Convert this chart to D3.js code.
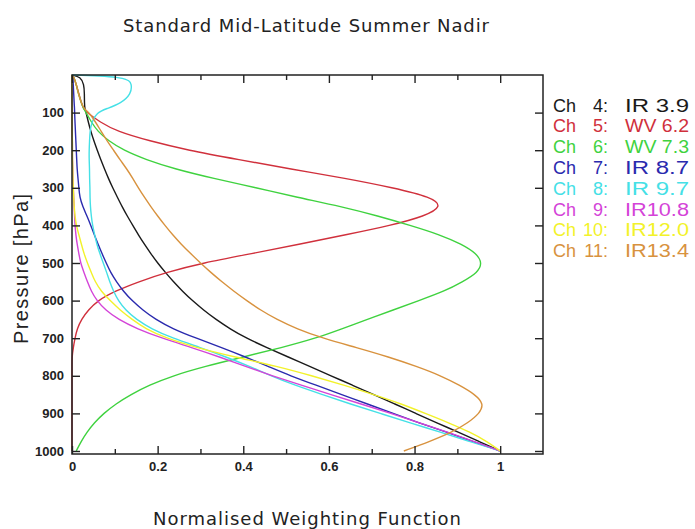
<!DOCTYPE html>
<html>
<head>
<meta charset="utf-8">
<script src="https://cdn.jsdelivr.net/npm/d3@7"></script>
<style>
body { margin: 0; background: #fff; }
text { fill: #222; }
</style>
</head>
<body>
<svg id="chart" width="695" height="529"></svg>
<script>
// pressure levels (hPa), shared by every channel
var pressure = [0, 5, 25, 50, 75, 90,
  100, 125, 150, 175, 200, 225, 250, 275, 300, 325, 350, 375, 400, 425, 450, 475,
  500, 525, 550, 575, 600, 625, 650, 675, 700, 725, 750, 775, 800, 825, 850, 875,
  900, 925, 950, 975, 1000];

// normalised weighting function per channel
var ch4 = [0, 0.02, 0.028, 0.029, 0.029, 0.03,
  0.033, 0.038, 0.044, 0.051, 0.059, 0.067, 0.076, 0.085, 0.095, 0.106, 0.117, 0.129, 0.142, 0.155, 0.169, 0.184,
  0.2, 0.218, 0.237, 0.258, 0.281, 0.307, 0.336, 0.369, 0.407, 0.455, 0.505, 0.555, 0.605, 0.655, 0.705, 0.754,
  0.803, 0.852, 0.902, 0.951, 1.0];
var ch5 = [0, 0.004, 0.01, 0.016, 0.022, 0.027,
  0.035, 0.065, 0.105, 0.18, 0.27, 0.39, 0.51, 0.64, 0.75, 0.84, 0.865, 0.825, 0.745, 0.64, 0.53, 0.42,
  0.305, 0.22, 0.155, 0.1, 0.06, 0.038, 0.022, 0.012, 0.007, 0.003, 0, 0, 0, 0, 0, 0,
  0, 0, 0, 0, 0];
var ch6 = [0, 0.004, 0.01, 0.015, 0.022, 0.027,
  0.033, 0.045, 0.06, 0.085, 0.12, 0.172, 0.24, 0.33, 0.43, 0.525, 0.63, 0.715, 0.79, 0.86, 0.91, 0.945,
  0.958, 0.948, 0.912, 0.87, 0.81, 0.75, 0.69, 0.63, 0.57, 0.49, 0.4, 0.31, 0.235, 0.18, 0.137, 0.102,
  0.074, 0.052, 0.035, 0.021, 0.01];
var ch7 = [0, 0.002, 0.003, 0.004, 0.005, 0.006,
  0.006, 0.007, 0.008, 0.009, 0.01, 0.011, 0.012, 0.014, 0.016, 0.018, 0.025, 0.035, 0.044, 0.052, 0.061, 0.07,
  0.08, 0.09, 0.104, 0.12, 0.14, 0.165, 0.195, 0.235, 0.29, 0.35, 0.405, 0.458, 0.51, 0.57, 0.63, 0.69,
  0.75, 0.81, 0.875, 0.937, 1.0];
var ch8 = [0, 0.13, 0.14, 0.138, 0.115, 0.08,
  0.058, 0.046, 0.042, 0.041, 0.04, 0.04, 0.041, 0.041, 0.042, 0.042, 0.043, 0.045, 0.048, 0.053, 0.058, 0.065,
  0.073, 0.081, 0.088, 0.097, 0.108, 0.125, 0.15, 0.185, 0.235, 0.3, 0.36, 0.415, 0.465, 0.52, 0.585, 0.65,
  0.72, 0.79, 0.86, 0.93, 1.0];
var ch9 = [0, 0, 0, 0, 0, 0,
  0, 0, 0, 0.001, 0.001, 0.001, 0.002, 0.002, 0.003, 0.004, 0.005, 0.006, 0.007, 0.009, 0.012, 0.016,
  0.02, 0.028, 0.036, 0.045, 0.058, 0.078, 0.108, 0.152, 0.21, 0.28, 0.345, 0.405, 0.468, 0.535, 0.605, 0.675,
  0.745, 0.812, 0.877, 0.94, 1.0];
var ch10 = [0, 0, 0, 0, 0, 0,
  0, 0, 0, 0.001, 0.001, 0.001, 0.002, 0.002, 0.003, 0.004, 0.005, 0.007, 0.01, 0.016, 0.022, 0.028,
  0.036, 0.045, 0.054, 0.068, 0.089, 0.112, 0.14, 0.172, 0.22, 0.29, 0.38, 0.48, 0.56, 0.635, 0.705, 0.77,
  0.825, 0.88, 0.93, 0.97, 1.0];
var ch11 = [0, 0.004, 0.01, 0.015, 0.022, 0.028,
  0.04, 0.055, 0.068, 0.082, 0.097, 0.112, 0.128, 0.142, 0.155, 0.169, 0.184, 0.2, 0.217, 0.235, 0.255, 0.277,
  0.3, 0.324, 0.35, 0.378, 0.408, 0.44, 0.478, 0.525, 0.585, 0.665, 0.74, 0.805, 0.862, 0.905, 0.942, 0.962,
  0.952, 0.925, 0.888, 0.835, 0.775];

// legend entries
var chanNums = ["4:", "5:", "6:", "7:", "8:", "9:", "10:", "11:"];
var bandLabels = ["IR 3.9", "WV 6.2", "WV 7.3", "IR 8.7", "IR 9.7", "IR10.8", "IR12.0", "IR13.4"];

// tick labels
var xTicks = [0, 0.2, 0.4, 0.6, 0.8, 1];
var xTickLabels = ["0", "0.2", "0.4", "0.6", "0.8", "1"];
var xMinor = [0.1, 0.3, 0.5, 0.7, 0.9];
var yTicks = [100, 200, 300, 400, 500, 600, 700, 800, 900, 1000];

var colors = ["#1a1a1a", "#d0303c", "#3fd23f", "#2a2aae", "#45e0e6", "#d444d8", "#f2f22a", "#d8923e"];

var svg = d3.select("#chart");
var plotLeft = 72, plotRight = 543, plotTop = 75, plotBottom = 454;

var x = d3.scaleLinear().domain([0, 1.1]).range([plotLeft, plotRight]);
var y = d3.scaleLinear().domain([0, 1008]).range([plotTop, plotBottom]);

var series = [ch4, ch5, ch6, ch7, ch8, ch9, ch10, ch11].map(function(vals) {
  return vals.map(function(v, j) { return { p: pressure[j], w: v }; });
});

var line = d3.line()
    .x(function(d) { return x(d.w); })
    .y(function(d) { return y(d.p); })
    .curve(d3.curveBasis);

/* curves */
svg.append("g").selectAll("path")
    .data(series)
    .enter().append("path")
    .attr("d", line)
    .attr("fill", "none")
    .attr("stroke", function(d, i) { return colors[i]; })
    .attr("stroke-width", 1.4)
    .attr("stroke-linejoin", "round");

/* axes, ticks inward */
function styleAxis(g) {
  g.attr("font-size", null).attr("font-family", null);
  g.selectAll("path.domain").remove();
  g.selectAll("line").attr("stroke", "#222").attr("stroke-width", 1.4);
  g.selectAll("text")
      .style("font-family", "'Liberation Sans', Arial, sans-serif")
      .style("font-size", "13px")
      .style("font-weight", "bold")
      .attr("fill", "#222");
}

svg.append("g")
    .attr("transform", "translate(0," + plotBottom + ")")
    .call(d3.axisBottom(x).tickValues(xTicks).tickSizeInner(-8).tickSizeOuter(0).tickPadding(8)
      .tickFormat(function(d, i) { return xTickLabels[i]; }))
    .call(styleAxis);
svg.append("g")
    .attr("transform", "translate(0," + plotBottom + ")")
    .call(d3.axisBottom(x).tickValues(xMinor).tickSizeInner(-5).tickSizeOuter(0).tickFormat(""))
    .call(styleAxis);
svg.append("g")
    .attr("transform", "translate(0," + plotTop + ")")
    .call(d3.axisTop(x).tickValues(xTicks).tickSizeInner(-8).tickSizeOuter(0).tickFormat(""))
    .call(styleAxis);
svg.append("g")
    .attr("transform", "translate(0," + plotTop + ")")
    .call(d3.axisTop(x).tickValues(xMinor).tickSizeInner(-5).tickSizeOuter(0).tickFormat(""))
    .call(styleAxis);
svg.append("g")
    .attr("transform", "translate(" + plotLeft + ",0)")
    .call(d3.axisLeft(y).tickValues(yTicks).tickSizeInner(-8).tickSizeOuter(0).tickPadding(8)
      .tickFormat(d3.format("d")))
    .call(styleAxis);
svg.append("g")
    .attr("transform", "translate(" + plotRight + ",0)")
    .call(d3.axisRight(y).tickValues(yTicks).tickSizeInner(-8).tickSizeOuter(0).tickFormat(""))
    .call(styleAxis);

svg.append("rect")
    .attr("x", plotLeft).attr("y", plotTop)
    .attr("width", plotRight - plotLeft).attr("height", plotBottom - plotTop)
    .attr("fill", "none")
    .attr("stroke", "#222")
    .attr("stroke-width", 1.5);

/* titles */
svg.append("text")
    .attr("x", 306).attr("y", 32)
    .attr("text-anchor", "middle")
    .attr("textLength", 366).attr("lengthAdjust", "spacing")
    .style("font-family", "'DejaVu Sans', sans-serif")
    .style("font-size", "18px")
    .text("Standard Mid-Latitude Summer Nadir");

svg.append("text")
    .attr("x", 307).attr("y", 525)
    .attr("text-anchor", "middle")
    .attr("textLength", 308).attr("lengthAdjust", "spacing")
    .style("font-family", "'DejaVu Sans', sans-serif")
    .style("font-size", "18px")
    .text("Normalised Weighting Function");

svg.append("text")
    .attr("transform", "translate(28,269) rotate(-90)")
    .attr("text-anchor", "middle")
    .attr("textLength", 150).attr("lengthAdjust", "spacing")
    .style("font-family", "'Liberation Sans', Arial, sans-serif")
    .style("font-size", "20px")
    .text("Pressure [hPa]");

/* legend */
var legend = svg.append("g")
    .style("font-family", "'Liberation Sans', Arial, sans-serif")
    .style("font-size", "18px");

var rows = legend.selectAll("g")
    .data(bandLabels)
    .enter().append("g")
    .attr("transform", function(d, i) { return "translate(0," + (111.5 + i * 20.8) + ")"; })
    .style("fill", function(d, i) { return colors[i]; });

rows.append("text").attr("x", 553).style("fill", "inherit").text("Ch");
rows.append("text").attr("x", 608).attr("text-anchor", "end").style("fill", "inherit")
    .text(function(d, i) { return chanNums[i]; });
rows.append("text").attr("x", 625).style("fill", "inherit")
    .attr("textLength", 64).attr("lengthAdjust", "spacingAndGlyphs")
    .text(function(d) { return d; });
</script>
</body>
</html>
